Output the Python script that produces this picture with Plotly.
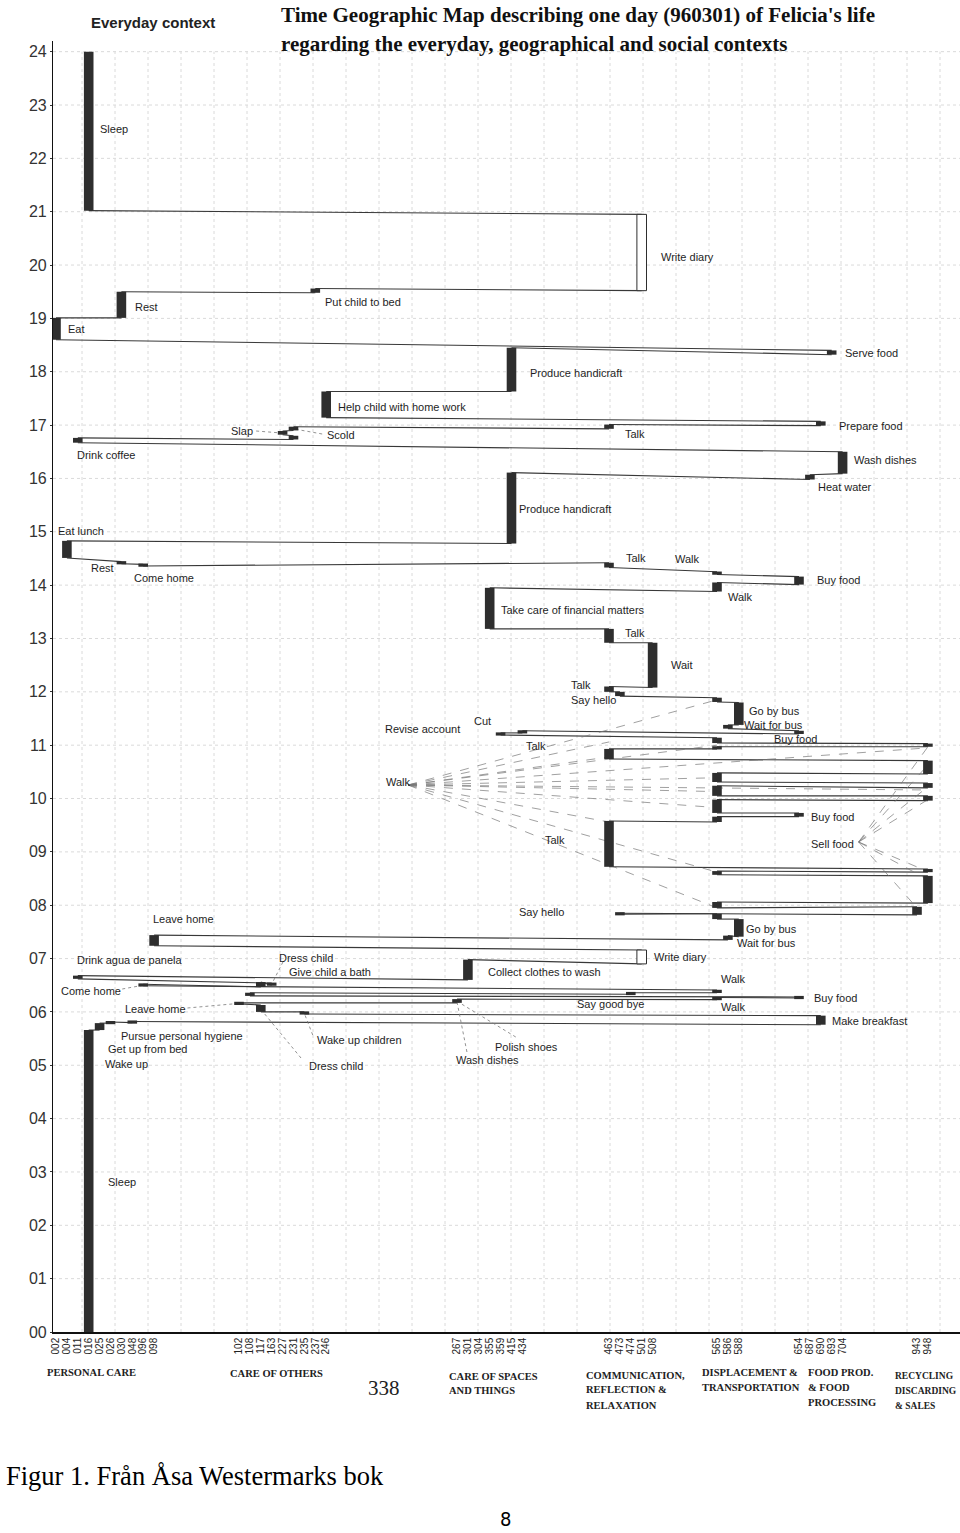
import plotly.graph_objects as go

# ====================== DATA ======================
hour_ticks = list(range(0, 25))
hour_text = [f"{h:02d}" for h in hour_ticks]

category_lines = [
    ["PERSONAL CARE"],
    ["CARE OF OTHERS"],
    ["CARE OF SPACES", "AND THINGS"],
    ["COMMUNICATION,", "REFLECTION &", "RELAXATION"],
    ["DISPLACEMENT &", "TRANSPORTATION"],
    ["FOOD PROD.", "& FOOD", "PROCESSING"],
    ["RECYCLING", "DISCARDING", "& SALES"],
]
category_codes = [
    ["002", "004", "011", "016", "025", "026", "030", "048", "096", "098"],
    ["102", "108", "117", "163", "227", "231", "235", "237", "246"],
    ["267", "301", "304", "355", "359", "415", "434"],
    ["463", "473", "474", "501", "508"],
    ["565", "586", "588"],
    ["654", "687", "690", "693", "704"],
    ["943", "948"],
]

# chronological sequence of activities (code, start hour, end hour)
act_name = [
    "Sleep", "Wake up", "Pursue personal hygiene", "Pursue personal hygiene", "Make breakfast",
    "Wake up children", "Dress child", "Leave home", "Polish shoes", "Walk",
    "Buy food", "Dress child", "Say good bye", "Walk", "Come home",
    "Give child a bath", "Give child a bath", "Drink agua de panela", "Collect clothes to wash", "Write diary",
    "Leave home", "Wait for bus", "Go by bus", "Walk", "Say hello",
    "Sell food", "Walk", "Sell food", "Walk", "Sell food",
    "Talk", "Walk", "Buy food", "Walk", "Sell food",
    "Walk", "Sell food", "Walk", "Sell food", "Talk",
    "Walk", "Sell food", "Walk", "Cut", "Cut",
    "Buy food", "Wait for bus", "Go by bus", "Walk", "Say hello",
    "Talk", "Wait", "Talk", "Take care of financial matters", "Walk",
    "Buy food", "Walk", "Talk", "Come home", "Rest",
    "Eat lunch", "Produce handicraft", "Heat water", "Wash dishes", "Drink coffee",
    "Scold", "Slap", "Scold", "Talk", "Prepare food",
    "Help child with home work", "Produce handicraft", "Serve food", "Eat", "Rest",
    "Put child to bed", "Write diary", "Sleep",
]
act_code = [
    "016", "025", "026", "048", "690",
    "235", "117", "102", "267", "565",
    "654", "108", "474", "565", "096",
    "117", "163", "011", "301", "501",
    "098", "586", "588", "565", "473",
    "943", "565", "948", "565", "948",
    "463", "565", "654", "565", "948",
    "565", "948", "565", "948", "463",
    "565", "948", "565", "359", "434",
    "654", "586", "588", "565", "473",
    "463", "508", "463", "355", "565",
    "654", "565", "463", "096", "030",
    "004", "415", "687", "704", "011",
    "231", "227", "231", "463", "690",
    "246", "415", "693", "002", "030",
    "237", "501", "016",
]
act_start = [
    0.00, 5.66, 5.79, 5.80, 5.76,
    5.96, 6.00, 6.15, 6.17, 6.23,
    6.26, 6.30, 6.33, 6.36, 6.49,
    6.47, 6.50, 6.62, 6.60, 6.90,
    7.24, 7.35, 7.41, 7.74, 7.83,
    7.82, 7.95, 8.04, 8.57, 8.62,
    8.72, 9.56, 9.66, 9.73, 9.96,
    10.05, 10.20, 10.31, 10.46, 10.74,
    10.93, 10.97, 11.04, 11.19, 11.23,
    11.21, 11.31, 11.38, 11.81, 11.92,
    12.00, 12.08, 12.92, 13.18, 13.88,
    14.01, 14.20, 14.33, 14.36, 14.40,
    14.51, 14.78, 15.98, 16.09, 16.67,
    16.73, 16.82, 16.90, 16.93, 16.99,
    17.14, 17.63, 18.32, 18.60, 19.01,
    19.48, 19.52, 21.02,
]
act_end = [
    5.66, 5.79, 5.81, 5.82, 5.93,
    6.00, 6.13, 6.17, 6.24, 6.27,
    6.28, 6.36, 6.36, 6.41, 6.52,
    6.56, 6.54, 6.68, 6.98, 7.16,
    7.44, 7.43, 7.74, 7.84, 7.85,
    7.97, 8.06, 8.55, 8.64, 8.68,
    9.58, 9.66, 9.73, 9.98, 10.05,
    10.24, 10.29, 10.48, 10.71, 10.93,
    10.97, 11.03, 11.14, 11.23, 11.27,
    11.27, 11.38, 11.80, 11.89, 12.00,
    12.10, 12.92, 13.18, 13.95, 14.05,
    14.16, 14.25, 14.42, 14.39, 14.44,
    14.83, 16.11, 16.07, 16.50, 16.76,
    16.80, 16.89, 16.97, 17.01, 17.07,
    17.63, 18.45, 18.40, 19.01, 19.50,
    19.56, 20.95, 24.00,
]

# social context links (dashed) reaching activities
walk_link_code = ["565", "463", "565", "463", "565", "948", "565", "948", "565", "463", "565", "565"]
walk_link_hour = [11.85, 11.06, 11.00, 10.78, 10.39, 10.95, 10.13, 10.16, 9.83, 9.56, 8.62, 7.95]
sell_link_code = ["948", "948", "948", "948", "948", "948", "943"]
sell_link_hour = [10.97, 10.63, 10.22, 9.98, 8.63, 8.48, 7.95]

# label leaders (dotted) reaching activities
leader_code = ["096", "102", "235", "117", "163", "267", "267", "227", "231"]
leader_hour = [6.50, 6.16, 5.97, 6.05, 6.52, 6.20, 6.19, 16.85, 16.93]

# ====================== LAYOUT ======================
W, H = 960, 1533
L = 53
TOP = 41
BASE = 1332
Y_MAX = 24.2
PXH = (BASE - TOP) / Y_MAX
GROUP_X0 = [56, 239, 457, 609, 717, 799, 917]
STEP = 10.9
HALF = 4.8


def hy(py):
    return (BASE - py) / PXH


def dx(px, py):
    return px - 14 * (BASE - py) / 1280 + 4


def paper(px, py):
    return (px - L) / (W - L), (BASE - py) / (BASE - TOP)


code_x = {}
for g, codes in enumerate(category_codes):
    for i, c in enumerate(codes):
        code_x[c] = GROUP_X0[g] + i * STEP

tick_vals = [code_x[c] for codes in category_codes for c in codes]
tick_text = [c for codes in category_codes for c in codes]

label_pos = [
    ("Sleep", 107, 129), ("Write diary", 667, 257), ("Rest", 140, 307),
    ("Put child to bed", 330, 302), ("Eat", 73, 329), ("Serve food", 850, 353),
    ("Produce handicraft", 534, 373), ("Help child with home work", 342, 407),
    ("Slap", 235, 431), ("Scold", 331, 435), ("Talk", 629, 434),
    ("Prepare food", 843, 426), ("Drink coffee", 81, 455), ("Wash dishes", 858, 460),
    ("Heat water", 821, 487), ("Produce handicraft", 522, 509), ("Eat lunch", 61, 531),
    ("Talk", 628, 558), ("Walk", 677, 559), ("Rest", 93, 568), ("Come home", 136, 578),
    ("Buy food", 819, 580), ("Walk", 730, 597), ("Take care of financial matters", 503, 610),
    ("Talk", 627, 633), ("Wait", 672, 665), ("Talk", 572, 685), ("Say hello", 572, 700),
    ("Go by bus", 750, 711), ("Cut", 475, 721), ("Wait for bus", 745, 725),
    ("Revise account", 386, 729), ("Buy food", 774, 739), ("Talk", 526, 746),
    ("Walk", 386, 782), ("Buy food", 811, 817), ("Talk", 544, 840), ("Sell food", 810, 844),
    ("Say hello", 518, 912), ("Leave home", 152, 919), ("Go by bus", 744, 929),
    ("Wait for bus", 735, 943), ("Write diary", 652, 957), ("Drink agua de panela", 75, 960),
    ("Dress child", 277, 958), ("Give child a bath", 287, 972),
    ("Collect clothes to wash", 486, 972), ("Walk", 719, 979), ("Come home", 59, 991),
    ("Buy food", 812, 998), ("Say good bye", 575, 1004), ("Walk", 719, 1007),
    ("Leave home", 123, 1009), ("Make breakfast", 829, 1021),
    ("Pursue personal hygiene", 118, 1036), ("Wake up children", 314, 1040),
    ("Polish shoes", 492, 1047), ("Get up from bed", 105, 1049), ("Wash dishes", 453, 1060),
    ("Wake up", 102, 1064), ("Dress child", 306, 1066), ("Sleep", 104, 1182),
]
leader_origin = [(122, 989), (187, 1008), (312, 1035), (300, 1058), (283, 962),
                 (515, 1037), (466, 1052), (262, 431), (328, 434)]
WALK_ORIGIN = (410, 785)
SELL_ORIGIN = (860, 842)

fig = go.Figure()

# trajectory path
tx, ty = [], []
for i in range(len(act_code) - 1):
    tx += [code_x[act_code[i]], code_x[act_code[i + 1]], None]
    ty += [act_end[i], act_start[i + 1], None]
fig.add_trace(go.Scatter(x=tx, y=ty, mode="lines", line=dict(color="#383838", width=1.1),
                         hoverinfo="skip", showlegend=False))

# social links
for origin, codes, hrs in [(WALK_ORIGIN, walk_link_code, walk_link_hour),
                           (SELL_ORIGIN, sell_link_code, sell_link_hour)]:
    ox, oy = dx(*origin), hy(origin[1])
    lx, ly = [], []
    for c, h in zip(codes, hrs):
        lx += [ox, code_x[c], None]
        ly += [oy, h, None]
    fig.add_trace(go.Scatter(x=lx, y=ly, mode="lines",
                             line=dict(color="#777", width=0.7, dash="dash"),
                             hoverinfo="skip", showlegend=False))

# leaders
lx, ly = [], []
for (px, py), c, h in zip(leader_origin, leader_code, leader_hour):
    lx += [dx(px, py), code_x[c], None]
    ly += [hy(py), h, None]
fig.add_trace(go.Scatter(x=lx, y=ly, mode="lines", line=dict(color="#777", width=0.8, dash="dot"),
                         hoverinfo="skip", showlegend=False))

shapes = []
# faint grid
for h in range(1, 25):
    shapes.append(dict(type="line", xref="x", yref="y", x0=L, x1=W, y0=h, y1=h,
                       line=dict(color="#dadada", width=1, dash="dot"), layer="below"))
gx = 82
while gx < W:
    shapes.append(dict(type="line", xref="x", yref="y", x0=gx, x1=gx, y0=0, y1=24,
                       line=dict(color="#dadada", width=1, dash="dot"), layer="below"))
    gx += 33

# activity boxes
for name, c, s, e in zip(act_name, act_code, act_start, act_end):
    x = code_x[c]
    if e - s < 0.06:
        m = (s + e) / 2
        s, e = m - 0.03, m + 0.03
    if name == "Write diary":
        shapes.append(dict(type="rect", xref="x", yref="y", x0=x - HALF, x1=x + HALF, y0=s, y1=e,
                           fillcolor="white", line=dict(color="#2e2e2e", width=1), layer="above"))
    else:
        shapes.append(dict(type="rect", xref="x", yref="y", x0=x - HALF, x1=x + HALF, y0=s, y1=e,
                           fillcolor="#2e2e2e", line=dict(width=0), layer="above"))

ann = []
for text, px, py in label_pos:
    ann.append(dict(x=dx(px, py), y=hy(py), xref="x", yref="y", text=text, showarrow=False,
                    xanchor="left", yanchor="middle",
                    font=dict(family="Liberation Sans, Arial", size=11, color="#1e1e1e")))


def page_text(text, px, py, size, family, color="#111", anchor="left"):
    x, y = paper(px, py)
    ann.append(dict(x=x, y=y, xref="paper", yref="paper", text=text, showarrow=False,
                    xanchor=anchor, yanchor="middle", font=dict(family=family, size=size, color=color)))


page_text("<b>Everyday context</b>", 89, 22, 15, "Liberation Sans, Arial", "#222")
page_text("<b>Time Geographic Map describing one day (960301) of Felicia's life</b>", 279, 15, 21,
          "Liberation Serif, Times New Roman")
page_text("<b>regarding the everyday, geographical and social contexts</b>", 279, 44, 21,
          "Liberation Serif, Times New Roman")

cat_x = [45, 228, 447, 584, 700, 806, 893]
cat_y = [1373, 1374, 1376, 1375, 1372, 1372, 1376]
cat_size = [10.5, 10.5, 10.5, 10.5, 10.5, 10.5, 9.5]
for lines, cx, cy, cs in zip(category_lines, cat_x, cat_y, cat_size):
    for k, t in enumerate(lines):
        page_text(f"<b>{t}</b>", cx, cy + 15 * k, cs, "Liberation Serif, Times New Roman", "#222")

page_text("338", 366, 1388, 21, "Liberation Serif, Times New Roman", "#222")
page_text("Figur 1. Från Åsa Westermarks bok", 4, 1476, 26.5, "Liberation Serif, Times New Roman", "#000")
page_text("8", 505, 1519, 20, "DejaVu Sans Condensed, DejaVu Sans", "#000", anchor="center")

fig.update_layout(
    width=W, height=H,
    margin=dict(l=L, r=0, t=TOP, b=H - BASE),
    paper_bgcolor="white", plot_bgcolor="white",
    showlegend=False,
    shapes=shapes,
    annotations=ann,
    xaxis=dict(range=[L, W], showgrid=False, zeroline=False, showline=True, linecolor="#111",
               linewidth=1.5, tickmode="array", tickvals=tick_vals, ticktext=tick_text,
               tickangle=-90, tickfont=dict(family="Liberation Sans, Arial", size=10, color="#222"),
               ticks="", automargin=False, fixedrange=True),
    yaxis=dict(range=[0, Y_MAX], showgrid=False, zeroline=False, showline=True, linecolor="#111",
               linewidth=1.2, tickmode="array", tickvals=hour_ticks, ticktext=hour_text,
               tickfont=dict(family="Liberation Sans, Arial", size=16, color="#333"),
               ticks="outside", ticklen=2, tickcolor="#333", automargin=False, fixedrange=True),
)

fig.write_html("out.html", config={"displayModeBar": False},
               post_script="document.body.style.margin='0px';document.body.style.padding='0px';")
